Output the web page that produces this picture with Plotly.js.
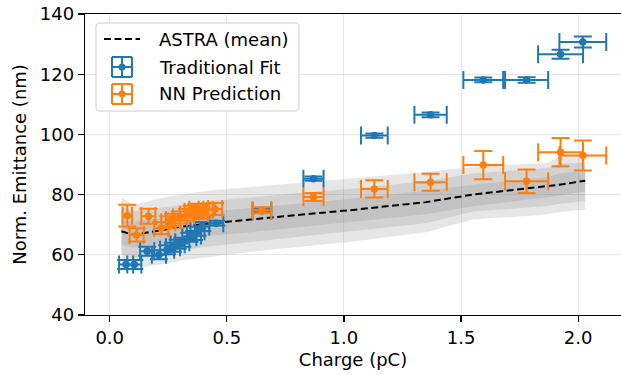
<!DOCTYPE html>
<html>
<head>
<meta charset="utf-8">
<script src="https://cdn.plot.ly/plotly-3.0.1.min.js"></script>
<style>html,body{margin:0;padding:0;background:#fff;}#chart{width:621px;height:375px;}</style>
</head>
<body>
<div id="chart"></div>
<script>
// ASTRA simulation: mean and spread bands
const astraX   = [0.05, 0.1, 0.2, 0.3, 0.45, 0.6, 0.8, 1.05, 1.35, 1.55, 1.8, 1.87, 1.92, 2.03];
const astraMean= [67.8, 66.6, 67.9, 69.3, 70.6, 71.8, 73.2, 75.0, 77.5, 80.0, 82.3, 82.8, 83.3, 84.6];
const astraUp3 = [79.0, 76.5, 78.5, 80.0, 81.5, 82.5, 84.0, 85.5, 87.5, 89.2, 90.3, 90.6, 92.8, 93.3];
const astraUp2 = [76.0, 74.5, 75.5, 76.5, 78.0, 79.0, 80.5, 82.0, 84.5, 87.0, 88.3, 88.8, 90.3, 90.6];
const astraUp1 = [72.0, 71.0, 72.0, 73.5, 74.5, 75.5, 77.0, 78.8, 81.3, 83.3, 85.3, 85.8, 87.0, 87.8];
const astraLo1 = [63.5, 62.5, 63.5, 65.0, 66.5, 67.5, 69.0, 71.0, 73.5, 76.1, 78.5, 79.0, 79.8, 81.1];
const astraLo2 = [60.0, 59.0, 60.0, 61.5, 63.0, 64.5, 66.0, 68.0, 70.5, 74.4, 75.8, 76.2, 77.0, 77.8];
const astraLo3 = [56.0, 55.5, 56.5, 58.0, 59.5, 61.0, 62.5, 64.5, 67.5, 71.7, 73.0, 73.5, 74.2, 75.0];

// Traditional Fit
const tradX    = [0.07, 0.105, 0.16, 0.21, 0.245, 0.27, 0.29, 0.31, 0.34, 0.36, 0.375, 0.395, 0.455, 0.65, 0.87, 1.13, 1.37, 1.595, 1.78, 1.925, 2.02];
const tradY    = [56.8, 56.8, 61.2, 60.0, 61.7, 62.5, 63.5, 64.2, 65.8, 66.4, 67.8, 69.4, 70.5, 74.6, 85.3, 99.6, 106.5, 118.1, 118.1, 126.6, 130.7];
const tradXErr = [0.03, 0.03, 0.03, 0.03, 0.03, 0.03, 0.03, 0.03, 0.03, 0.03, 0.03, 0.03, 0.03, 0.04, 0.043, 0.057, 0.069, 0.085, 0.092, 0.096, 0.10];
const tradYErr = [1.5, 1.5, 1.5, 1.5, 1.5, 1.5, 1.5, 1.5, 1.5, 1.5, 1.5, 1.5, 0.8, 0.6, 0.7, 0.7, 0.8, 0.8, 0.9, 1.5, 1.8];

// NN Prediction
const nnX    = [0.075, 0.115, 0.165, 0.22, 0.25, 0.27, 0.30, 0.33, 0.35, 0.37, 0.39, 0.41, 0.45, 0.65, 0.87, 1.13, 1.37, 1.595, 1.78, 1.925, 2.02];
const nnY    = [73.0, 66.6, 72.8, 68.9, 70.8, 71.6, 72.4, 73.3, 74.3, 75.0, 73.9, 75.0, 75.2, 74.8, 79.2, 81.9, 84.1, 89.8, 84.4, 94.1, 93.0];
const nnXErr = [0.02, 0.03, 0.03, 0.03, 0.03, 0.03, 0.03, 0.03, 0.03, 0.03, 0.03, 0.03, 0.03, 0.04, 0.043, 0.057, 0.069, 0.085, 0.092, 0.096, 0.10];
const nnYErr = [3.6, 2.2, 2.5, 2.0, 2.0, 2.0, 2.0, 2.0, 2.0, 2.0, 2.0, 2.0, 2.0, 1.0, 1.3, 2.9, 2.8, 4.7, 3.9, 4.7, 5.0];

const xTicks = [0, 0.5, 1.0, 1.5, 2.0];
const xTickLabels = ['0.0', '0.5', '1.0', '1.5', '2.0'];
const yTicks = [40, 60, 80, 100, 120, 140];
const legendLabels = ['ASTRA (mean)', 'Traditional Fit', 'NN Prediction'];

const BLUE = '#1f77b4', ORANGE = '#ff7f0e';
const FONT = 'DejaVu Sans, Liberation Sans, sans-serif';

function band(up, lo) {
  return {
    x: astraX.concat(astraX.slice().reverse()),
    y: up.concat(lo.slice().reverse()),
    mode: 'lines', fill: 'toself', fillcolor: 'rgba(128,128,128,0.2)',
    line: {width: 0}, hoverinfo: 'skip', showlegend: false
  };
}
function errSeries(x, y, xe, ye, color, name) {
  return {
    x: x, y: y, name: name, mode: 'markers',
    marker: {color: color, size: 7.5},
    error_x: {type: 'data', array: xe, color: color, thickness: 2, width: 9},
    error_y: {type: 'data', array: ye, color: color, thickness: 2, width: 9},
    showlegend: false
  };
}

const data = [
  band(astraUp3, astraLo3),
  band(astraUp2, astraLo2),
  band(astraUp1, astraLo1),
  {x: astraX, y: astraMean, mode: 'lines', name: legendLabels[0],
   line: {color: 'black', width: 2, dash: '7px,3.5px'}, showlegend: false},
  errSeries(tradX, tradY, tradXErr, tradYErr, BLUE, legendLabels[1]),
  errSeries(nnX, nnY, nnXErr, nnYErr, ORANGE, legendLabels[2])
];

// manual legend (paper coordinates; plot area 85..621 x 14..315 px)
const L = 85, W = 536, T = 14, H = 301;
const px = v => (v - L) / W;
const py = v => (T + H - v) / H;
function roundedBox(x0, y0, x1, y1, r) {
  const X = v => px(v).toFixed(5), Y = v => py(v).toFixed(5);
  return 'M' + X(x0 + r) + ',' + Y(y0) +
    ' L' + X(x1 - r) + ',' + Y(y0) + ' Q' + X(x1) + ',' + Y(y0) + ' ' + X(x1) + ',' + Y(y0 + r) +
    ' L' + X(x1) + ',' + Y(y1 - r) + ' Q' + X(x1) + ',' + Y(y1) + ' ' + X(x1 - r) + ',' + Y(y1) +
    ' L' + X(x0 + r) + ',' + Y(y1) + ' Q' + X(x0) + ',' + Y(y1) + ' ' + X(x0) + ',' + Y(y1 - r) +
    ' L' + X(x0) + ',' + Y(y0 + r) + ' Q' + X(x0) + ',' + Y(y0) + ' ' + X(x0 + r) + ',' + Y(y0) + ' Z';
}
const shapes = [
  {type: 'path', xref: 'paper', yref: 'paper', path: roundedBox(96, 23, 299, 111, 4),
   line: {color: '#cccccc', width: 1}, fillcolor: 'rgba(255,255,255,0.85)', layer: 'above'},
  {type: 'line', xref: 'paper', yref: 'paper', x0: px(104), x1: px(140), y0: py(39), y1: py(39),
   line: {color: 'black', width: 2, dash: '7px,3.5px'}, layer: 'above'}
];
function icon(cy, color) {
  const cx = 122, h = 10;
  const seg = (x0, y0, x1, y1) => ({type: 'line', xref: 'paper', yref: 'paper',
    x0: px(x0), x1: px(x1), y0: py(y0), y1: py(y1), line: {color: color, width: 2}, layer: 'above'});
  shapes.push(seg(cx - h, cy, cx + h, cy));
  shapes.push(seg(cx, cy - h, cx, cy + h));
  shapes.push(seg(cx - h, cy - h, cx - h, cy + h));
  shapes.push(seg(cx + h, cy - h, cx + h, cy + h));
  shapes.push(seg(cx - h, cy - h, cx + h, cy - h));
  shapes.push(seg(cx - h, cy + h, cx + h, cy + h));
  shapes.push({type: 'circle', xref: 'paper', yref: 'paper', x0: px(cx - 3.5), x1: px(cx + 3.5),
    y0: py(cy + 3.5), y1: py(cy - 3.5), line: {width: 0}, fillcolor: color, layer: 'above'});
}
icon(67, BLUE);
icon(94, ORANGE);
const annotations = legendLabels.map((t, i) => ({
  text: t, xref: 'paper', yref: 'paper', x: px(157), y: py([39, 67, 94][i]),
  xanchor: 'left', yanchor: 'middle', showarrow: false,
  font: {family: FONT, size: 18, color: 'black'}
}));

const layout = {
  width: 621, height: 375,
  margin: {l: 85, r: 0, t: 14, b: 60},
  paper_bgcolor: 'white', plot_bgcolor: 'white',
  showlegend: false,
  font: {family: FONT, size: 18, color: 'black'},
  xaxis: {
    range: [-0.1055, 2.183], tickvals: xTicks, ticktext: xTickLabels,
    ticks: 'outside', ticklen: 6, tickwidth: 1.2, tickcolor: 'black',
    showline: true, linecolor: 'black', linewidth: 1.2, mirror: true,
    showgrid: true, gridcolor: 'rgba(176,176,176,0.3)', gridwidth: 1, zeroline: false,
    title: {text: 'Charge (pC)', font: {family: FONT, size: 18}, standoff: 6}
  },
  yaxis: {
    range: [40, 140], tickvals: yTicks,
    ticks: 'outside', ticklen: 6, tickwidth: 1.2, tickcolor: 'black',
    showline: true, linecolor: 'black', linewidth: 1.2, mirror: false,
    showgrid: true, gridcolor: 'rgba(176,176,176,0.3)', gridwidth: 1, zeroline: false,
    title: {text: 'Norm. Emittance (nm)', font: {family: FONT, size: 18}, standoff: 8}
  },
  shapes: shapes,
  annotations: annotations
};

Plotly.newPlot('chart', data, layout, {staticPlot: true, displayModeBar: false});
</script>
</body>
</html>
